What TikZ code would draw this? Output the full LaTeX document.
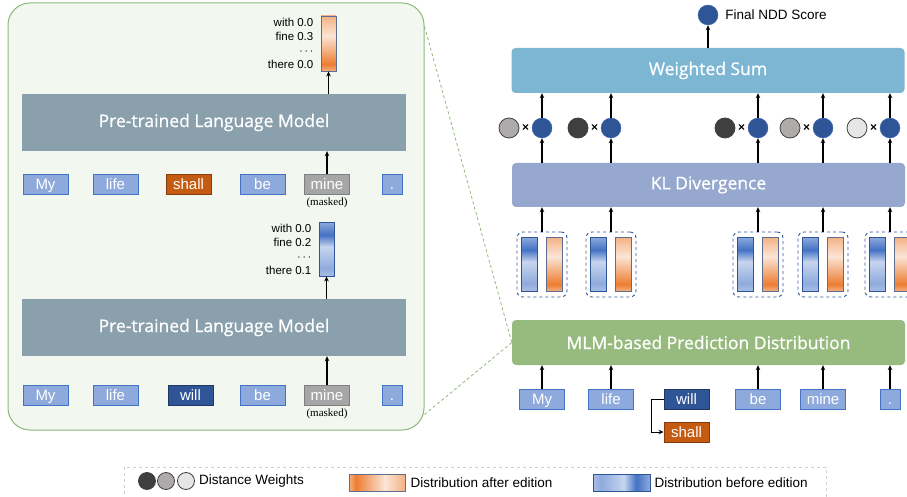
\documentclass[tikz,border=0pt]{standalone}
\usepackage{fontspec}
\setmainfont{Liberation Sans}
\newfontfamily\titlefont[FakeBold=0.7]{Open Sans}
\newfontfamily\maskfont{Liberation Serif}
\usetikzlibrary{arrows.meta}
\usetikzlibrary{positioning}

\definecolor{panelF}{HTML}{F2F7EF}
\definecolor{panelD}{HTML}{8DB87C}
\definecolor{plmF}{HTML}{8AA0AC}
\definecolor{wsumF}{HTML}{7DB6D3}
\definecolor{klF}{HTML}{97A8CF}
\definecolor{mlmF}{HTML}{97BA7E}
\definecolor{tokF}{HTML}{8EA9DB}
\definecolor{tokD}{HTML}{4472C4}
\definecolor{willF}{HTML}{2F5597}
\definecolor{willD}{HTML}{203864}
\definecolor{shallF}{HTML}{C55A11}
\definecolor{shallD}{HTML}{843C0C}
\definecolor{maskF}{HTML}{A6A6A6}
\definecolor{maskD}{HTML}{7F7F7F}
\definecolor{bluL}{HTML}{C7D5EE}
\definecolor{bluML}{HTML}{A9BFE5}
\definecolor{bluM}{HTML}{8FAADC}
\definecolor{bluD}{HTML}{4472C4}
\definecolor{navy}{HTML}{2F5597}
\definecolor{navyL}{HTML}{3F66AE}
\definecolor{orgL}{HTML}{FBE5D6}
\definecolor{orgM}{HTML}{F4B183}
\definecolor{orgD}{HTML}{ED7D31}
\definecolor{orgB}{HTML}{5F6E90}
\definecolor{wDark}{HTML}{3F3F3F}
\definecolor{wGray}{HTML}{AFABAB}
\definecolor{wLight}{HTML}{E7E6E6}
\definecolor{legD}{HTML}{D0D0D0}

\pgfdeclareverticalshading{bluebar}{100bp}{color(0bp)=(bluML); color(25bp)=(bluML); color(32bp)=(bluM); color(52bp)=(bluL); color(63bp)=(bluD); color(75bp)=(bluM); color(100bp)=(bluM)}
\pgfdeclareverticalshading{orangebar}{100bp}{color(0bp)=(orgM); color(25bp)=(orgM); color(31bp)=(orgD); color(57bp)=(orgL); color(75bp)=(orgM); color(100bp)=(orgM)}

\begin{document}
\begin{tikzpicture}[x=1pt,y=-1pt,
  every node/.style={inner sep=0pt},
  arr/.style={-{Stealth[length=5pt,width=4.5pt]},line width=1.1pt},
  panel/.style={draw=panelD,fill=panelF,line width=1pt,rounded corners=22pt},
  zoomline/.style={draw=panelD,dash pattern=on 3pt off 2.5pt,line width=0.8pt},
  plm/.style={fill=plmF,text=white,minimum width=384pt,minimum height=57pt,font=\titlefont\fontsize{17.5}{20}\selectfont},
  bigbox/.style={text=white,rounded corners=4pt,minimum width=393pt,minimum height=45pt,font=\titlefont\fontsize{17.5}{20}\selectfont},
  token/.style={draw=tokD,fill=tokF,text=white,line width=0.9pt,minimum width=45pt,minimum height=20pt,text height=10.7pt,text depth=0pt,font=\fontsize{15}{15}\selectfont},
  masked/.style={font=\maskfont\fontsize{11}{12}\selectfont},
  problabel/.style={align=right,font=\fontsize{11.5}{14}\selectfont},
  blubar/.style={draw=navy,line width=0.9pt,shading=bluebar,minimum width=16pt,minimum height=54pt},
  orgbar/.style={draw=orgB,line width=0.9pt,shading=orangebar,minimum width=16pt,minimum height=54pt},
  pairbox/.style={draw=navy,dashed,line width=0.9pt,rounded corners=6pt,minimum width=50pt,minimum height=65pt},
  score/.style={circle,draw=navyL,fill=navy,minimum size=20pt},
  wcirc/.style={circle,draw=wDark,line width=0.8pt,minimum size=20pt},
  legtext/.style={font=\fontsize{13.5}{14}\selectfont}]

\useasboundingbox (0,0) rectangle (907,497);

\node[panel,minimum width=416pt,minimum height=427pt] (zoom) at (216,216.5) {};

\node[plm] (plmT) at (214,122.5) {Pre-trained Language Model};
\node[token] (myT) at (45.5,184) {My};
\node[token] (lifeT) at (115.5,184) {life};
\node[token,fill=shallF,draw=shallD] (shallT) at (188.5,184) {shall};
\node[token] (beT) at (262.5,184) {be};
\node[token,fill=maskF,draw=maskD] (mineT) at (327,184) {mine};
\node[token,minimum width=20pt] (dotT) at (392,184) {.};
\node[masked,below=3pt of mineT] (maskT) {(masked)};
\node[orgbar,minimum width=15pt,minimum height=55pt] (distT) at (328.5,43.5) {};
\node[problabel,left=7pt of distT] (probT) {with 0.0\\fine 0.3\\$\cdots$\\there 0.0};
\draw[arr] (mineT.north) -- (mineT.north |- plmT.south);
\draw[arr] (plmT.north -| distT) -- (distT.south);

\node[plm] (plmB) at (214,327.5) {Pre-trained Language Model};
\node[token] (myB) at (45.5,395) {My};
\node[token] (lifeB) at (115.5,395) {life};
\node[token,fill=willF,draw=willD] (willB) at (190.5,395) {will};
\node[token] (beB) at (262.5,395) {be};
\node[token,fill=maskF,draw=maskD] (mineB) at (327,395) {mine};
\node[token,minimum width=20pt] (dotB) at (392,395) {.};
\node[masked,below=3pt of mineB] (maskB) {(masked)};
\node[blubar,minimum width=15pt] (distB) at (326.5,249) {};
\node[problabel,left=7pt of distB] (probB) {with 0.0\\fine 0.2\\$\cdots$\\there 0.1};
\draw[arr] (mineB.north) -- (mineB.north |- plmB.south);
\draw[arr] (plmB.north -| distB) -- (distB.south);

\node[bigbox,fill=mlmF] (mlm) at (708.5,342.5) {MLM-based Prediction Distribution};
\node[bigbox,fill=klF,minimum height=44pt] (kl) at (708.5,185) {KL Divergence};
\node[bigbox,fill=wsumF] (wsum) at (708,70.5) {Weighted Sum};
\node[score] (score) at (708,15) {};
\node[right=7pt of score,font=\fontsize{13.5}{14}\selectfont] (scoreText) {Final NDD Score};
\draw[arr] (wsum.north) -- (score.south);

\draw[zoomline] ([yshift=-24pt]zoom.north east) -- (mlm.west);
\draw[zoomline] ([yshift=16pt]zoom.south east) -- (mlm.west);

\foreach \x/\w/\n in {542/wGray/1,611/wDark/2,758/wDark/3,823/wGray/4,890/wLight/5} {
  \node[pairbox] (pair\n) at (\x,264.5) {};
  \node[blubar] (pb\n) at (\x-12.5,264) {};
  \node[orgbar] (po\n) at (\x+12.5,264) {};
  \node[score] (d\n) at (\x,128) {};
  \node[wcirc,fill=\w] (w\n) at (\x-33,128) {};
  \node[font=\bfseries\fontsize{12}{12}\selectfont] (x\n) at (\x-16.5,128.5) {×};
  \draw[arr] (pair\n.north) -- (pair\n.north |- kl.south);
  \draw[arr] (kl.north -| d\n) -- (d\n.south);
  \draw[arr] (d\n.north) -- (d\n.north |- wsum.south);
}

\node[token] (myR) at (542,399) {My};
\node[token] (lifeR) at (611,399) {life};
\node[token,fill=willF,draw=willD] (willR) at (686.5,399) {will};
\node[token,fill=shallF,draw=shallD] (shallR) at (686.5,432) {shall};
\node[token] (beR) at (758,399) {be};
\node[token] (mineR) at (823,399) {mine};
\node[token,minimum width=20pt] (dotR) at (890,399) {.};
\foreach \t in {myR,lifeR,beR,mineR,dotR}
  \draw[arr] (\t.north) -- (\t.north |- mlm.south);
\draw[arr,line width=0.9pt] (willR.west) -- ++(-12,0) |- (shallR.west);

\draw[draw=legD,dashed,line width=0.8pt] (124,467) rectangle (826,515);
\node[wcirc,fill=wDark,minimum size=17pt] (lgDark) at (147,481) {};
\node[wcirc,fill=wGray,minimum size=17pt] (lgGray) at (166,481) {};
\node[wcirc,fill=wLight,minimum size=17pt] (lgLight) at (186,481) {};
\node[legtext,right=4pt of lgLight] (lgW) {Distance Weights};
\node[draw=orgB,line width=0.8pt,shading=orangebar,shading angle=-90,minimum width=56pt,minimum height=17pt] (lgOrg) at (377,482.5) {};
\node[legtext,right=5pt of lgOrg] (lgO) {Distribution after edition};
\node[draw=navy,line width=0.8pt,shading=bluebar,shading angle=-90,minimum width=57pt,minimum height=17pt] (lgBlu) at (621.5,482.5) {};
\node[legtext,right=4pt of lgBlu] (lgB) {Distribution before edition};
\end{tikzpicture}
\end{document}
